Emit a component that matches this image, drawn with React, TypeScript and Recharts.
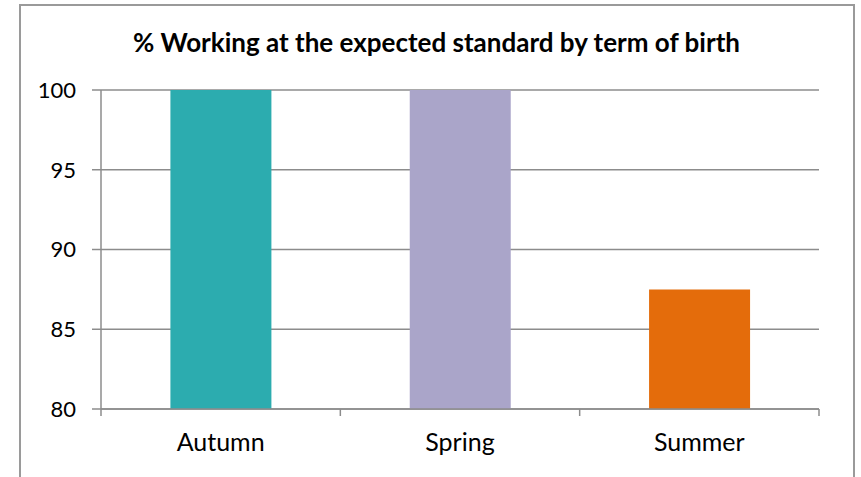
import { BarChart, Bar, XAxis, YAxis, CartesianGrid, Cell } from "recharts";

const categories = ["Autumn", "Spring", "Summer"];
const percentages = [100, 100, 87.5];
const barColors = ["#2CACAF", "#AAA5C9", "#E46C0B"];
const yTicks = [80, 85, 90, 95, 100];

const data = categories.map((term, i) => ({ term, pct: percentages[i] }));

const FONT = "Lato, 'Noto Sans', sans-serif";
const GRID = "#8C8C8C";
const X_TICK_MARGIN = 24;
const X_TICK_LEN = 7;

// category label centred in its band, with the tick marks on the band edges
function TermTick(props: any) {
    const { x, y, payload, width, visibleTicksCount, index } = props;
    const band = width / visibleTicksCount;
    const axisY = y - X_TICK_MARGIN;
    const left = x - band / 2;
    const right = x + band / 2;
    return (
        <g>
            <line x1={left} x2={left} y1={axisY} y2={axisY + X_TICK_LEN} stroke={GRID} strokeWidth={1.5} />
            {index === visibleTicksCount - 1 && (
                <line x1={right} x2={right} y1={axisY} y2={axisY + X_TICK_LEN} stroke={GRID} strokeWidth={1.5} />
            )}
            <text x={x} y={y} dy="0.71em" textAnchor="middle" fill="#000" fontSize={25} fontFamily={FONT}>
                {payload.value}
            </text>
        </g>
    );
}

export default function App() {
    return (
        <div
            style={{
                position: "absolute",
                left: 0,
                top: 0,
                width: 861,
                height: 477,
                overflow: "hidden",
                background: "#fff",
                fontFamily: FONT,
            }}
        >
            {/* outer chart frame */}
            <div
                style={{
                    position: "absolute",
                    left: 19,
                    top: 4,
                    width: 832,
                    height: 500,
                    border: "2px solid #9A9A9A",
                }}
            />
            <div
                style={{
                    position: "absolute",
                    left: 20,
                    width: 833,
                    top: 26,
                    lineHeight: "32px",
                    textAlign: "center",
                    fontSize: 26,
                    fontWeight: 700,
                    color: "#000",
                }}
            >
                % Working at the expected standard by term of birth
            </div>
            <div style={{ position: "absolute", left: 0, top: 0 }}>
                <BarChart
                    width={861}
                    height={477}
                    data={data}
                    margin={{ top: 90, right: 42, bottom: 0, left: 0 }}
                    barCategoryGap="29%"
                >
                    <CartesianGrid vertical={false} stroke={GRID} strokeWidth={1.5} />
                    <XAxis
                        dataKey="term"
                        height={68}
                        tickLine={false}
                        tickSize={0}
                        axisLine={{ stroke: GRID, strokeWidth: 1.5 }}
                        tickMargin={X_TICK_MARGIN}
                        interval={0}
                        tick={<TermTick />}
                    />
                    <YAxis
                        width={101}
                        domain={[80, 100]}
                        ticks={yTicks}
                        interval={0}
                        axisLine={{ stroke: GRID, strokeWidth: 1.5 }}
                        tickLine={{ stroke: GRID, strokeWidth: 1.5 }}
                        tickSize={9}
                        tickMargin={16}
                        tick={{ fill: "#000", fontSize: 22, fontFamily: FONT }}
                    />
                    <Bar dataKey="pct" isAnimationActive={false}>
                        {data.map((d, i) => (
                            <Cell key={d.term} fill={barColors[i]} />
                        ))}
                    </Bar>
                </BarChart>
            </div>
        </div>
    );
}
